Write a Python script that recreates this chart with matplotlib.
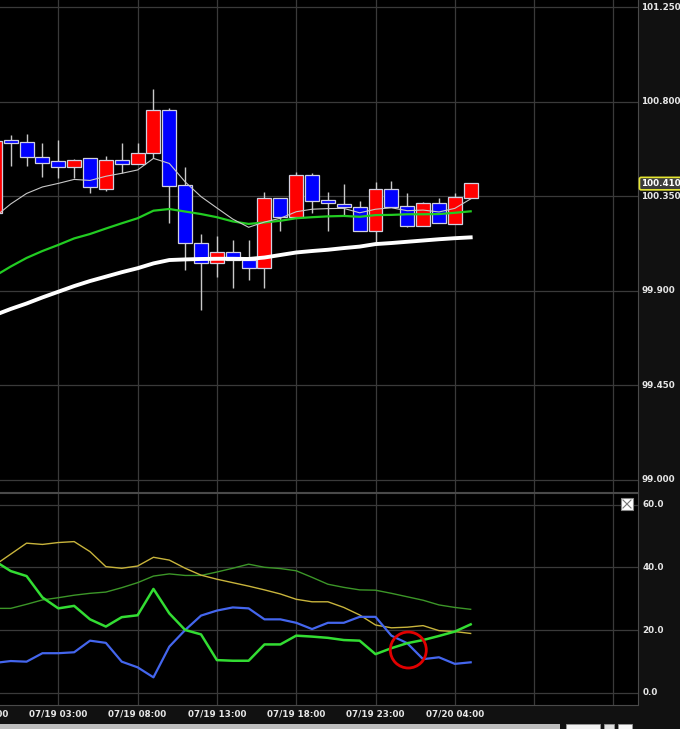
import numpy as np
import matplotlib
matplotlib.use("Agg")
import matplotlib.pyplot as plt
from matplotlib.patches import Rectangle, Ellipse
from matplotlib.transforms import blended_transform_factory

# hourly candles, first one is 07/18 23:00, last one is 07/20 05:00
opens = [100.270, 100.616, 100.605, 100.535, 100.516, 100.490, 100.529, 100.384, 100.521, 100.502,
         100.554, 100.760, 100.400, 100.126, 100.030, 100.083, 100.046, 100.007, 100.340, 100.250,
         100.450, 100.329, 100.313, 100.297, 100.184, 100.381, 100.300, 100.208, 100.314, 100.216, 100.340]
closes = [100.613, 100.603, 100.535, 100.507, 100.490, 100.522, 100.395, 100.521, 100.503, 100.554,
          100.760, 100.400, 100.126, 100.030, 100.083, 100.046, 100.007, 100.340, 100.250, 100.450,
          100.329, 100.316, 100.300, 100.184, 100.384, 100.300, 100.208, 100.314, 100.221, 100.343, 100.410]
highs = [100.641, 100.641, 100.645, 100.602, 100.618, 100.527, 100.531, 100.541, 100.605, 100.602,
         100.859, 100.769, 100.488, 100.170, 100.160, 100.141, 100.141, 100.369, 100.342, 100.467,
         100.462, 100.369, 100.408, 100.329, 100.418, 100.424, 100.364, 100.324, 100.340, 100.367, 100.410]
lows = [100.260, 100.494, 100.494, 100.443, 100.435, 100.438, 100.364, 100.375, 100.459, 100.502,
        100.530, 100.221, 99.999, 99.808, 99.967, 99.911, 99.951, 99.914, 100.186, 100.250,
        100.271, 100.186, 100.260, 100.184, 100.126, 100.300, 100.205, 100.208, 100.221, 100.216, 100.340]

# moving averages
ma_short = [100.251, 100.313, 100.363, 100.394, 100.411, 100.430, 100.425, 100.445, 100.459, 100.475,
            100.530, 100.506, 100.418, 100.348, 100.294, 100.241, 100.202, 100.227, 100.245, 100.276,
            100.288, 100.291, 100.292, 100.271, 100.288, 100.295, 100.281, 100.284, 100.275, 100.292, 100.337]
ma_mid = [99.970, 100.015, 100.056, 100.089, 100.118, 100.149, 100.170, 100.196, 100.221, 100.245,
          100.281, 100.289, 100.277, 100.265, 100.250, 100.230, 100.218, 100.225, 100.233, 100.245,
          100.250, 100.254, 100.256, 100.252, 100.260, 100.261, 100.264, 100.264, 100.265, 100.271, 100.278]
ma_long = [99.784, 99.813, 99.839, 99.868, 99.895, 99.922, 99.946, 99.967, 99.988, 100.007,
           100.030, 100.046, 100.049, 100.051, 100.052, 100.052, 100.051, 100.058, 100.070, 100.082,
           100.089, 100.095, 100.103, 100.110, 100.122, 100.127, 100.133, 100.139, 100.145, 100.150, 100.154]

# lower indicator
adx_yellow = [40.7, 44.2, 47.7, 47.3, 47.9, 48.2, 45.0, 40.2, 39.7, 40.4, 43.2, 42.3, 39.7, 37.5, 36.2, 35.1,
              34.0, 32.8, 31.5, 29.8, 29.0, 29.0, 27.2, 24.8, 21.6, 20.7, 20.9, 21.4, 19.8, 19.5, 18.9]
line_olive = [26.9, 26.9, 28.2, 29.6, 30.3, 31.1, 31.7, 32.1, 33.5, 35.1, 37.2, 37.9, 37.4, 37.4, 38.5, 39.7,
              41.0, 40.0, 39.6, 38.9, 36.8, 34.6, 33.6, 32.8, 32.7, 31.7, 30.6, 29.5, 28.0, 27.2, 26.6]
di_plus = [42.0, 38.8, 37.2, 30.4, 26.9, 27.7, 23.4, 21.1, 24.1, 24.7, 33.1, 25.3, 20.0, 18.6, 10.4, 10.2,
           10.2, 15.4, 15.4, 18.2, 17.9, 17.5, 16.8, 16.6, 12.3, 14.2, 15.8, 16.8, 18.1, 19.5, 21.8]
di_minus = [9.5, 10.1, 9.9, 12.6, 12.6, 12.9, 16.6, 15.9, 9.9, 8.1, 4.9, 14.7, 20.0, 24.6, 26.2, 27.2,
            26.9, 23.4, 23.4, 22.3, 20.3, 22.3, 22.3, 24.2, 24.2, 18.2, 15.8, 10.7, 11.3, 9.2, 9.7]

tick_pos = [-1, 4, 9, 14, 19, 24, 29]
tick_labels = ['07/18 22:00', '07/19 03:00', '07/19 08:00', '07/19 13:00',
               '07/19 18:00', '07/19 23:00', '07/20 04:00']

x = np.arange(len(opens))
grid_color = '#3a3a3a'
text_color = '#e6e6e6'
fs = 6.3

fig = plt.figure(figsize=(6.8, 7.29), dpi=100, facecolor='#111111')
# black strip between the two panels (behind the axes)
fig.add_artist(Rectangle((0, 1 - 493.5 / 729), 638 / 680, 2.5 / 729, transform=fig.transFigure,
                         fc='black', ec='none', zorder=-5))
ax = fig.add_axes([0, 1 - 491.5 / 729, 638 / 680, 491.5 / 729], facecolor='black')
ax2 = fig.add_axes([0, 1 - 704.5 / 729, 638 / 680, 211.5 / 729], facecolor='black')

xmin, xmax = 0.325, 40.55
for a in (ax, ax2):
    a.set_xlim(xmin, xmax)
    a.set_xticks(np.arange(4, 41, 5))
    a.tick_params(length=0, labelbottom=False, labelleft=False)
    a.grid(True, color=grid_color, lw=0.9)
    a.set_axisbelow(True)
    for s in ('left', 'top'):
        a.spines[s].set_visible(False)
    for s in ('right', 'bottom'):
        a.spines[s].set_color('#4a4a4a')
ax2.spines['top'].set_visible(True)
ax2.spines['top'].set_color('#4a4a4a')

# candles
ax.set_ylim(98.9438, 101.2843)
ax.set_yticks([99.0, 99.45, 99.9, 100.35, 100.8, 101.25])
ax.vlines(x, lows, highs, color='#c8c8c8', lw=1, zorder=2)
o = np.array(opens)
c = np.array(closes)
colors = np.where(c >= o, '#ff0000', '#0000ff')
ax.bar(x, np.abs(c - o) + 0.002, bottom=np.minimum(o, c), width=0.88, color=colors,
       edgecolor='#d0d0e0', linewidth=0.9, zorder=3)
ax.plot(x, ma_long, color='white', lw=2.8, zorder=4)
ax.plot(x, ma_mid, color='#22cc22', lw=1.6, zorder=4)
ax.plot(x, ma_short, color='#c8c8c8', lw=0.8, zorder=4)

trans = blended_transform_factory(ax.transAxes, ax.transData)
for v in [99.0, 99.45, 99.9, 100.35, 100.8, 101.25]:
    ax.text(1.005, v, f'{v:.3f}', transform=trans, color=text_color, fontsize=fs,
            fontweight='bold', va='center', ha='left')
ax.text(1.005, 100.41, '100.410', transform=trans, color='white', fontsize=fs, fontweight='bold',
        va='center', ha='left', zorder=10,
        bbox=dict(boxstyle='round,pad=0.2', fc='#3c3c3c', ec='#e6e632', lw=1.2))

# lower panel
ax2.set_ylim(-3.76, 63.7)
ax2.set_yticks([0, 20, 40, 60])
ax2.plot(x, line_olive, color='#3c9628', lw=1.0)
ax2.plot(x, adx_yellow, color='#c8b43c', lw=1.0)
ax2.plot(x, di_minus, color='#4466ee', lw=1.6)
ax2.plot(x, di_plus, color='#33dd33', lw=1.8)
trans2 = blended_transform_factory(ax2.transAxes, ax2.transData)
for v in [0, 20, 40, 60]:
    ax2.text(1.007, v, f'{v:.1f}', transform=trans2, color=text_color, fontsize=fs,
             fontweight='bold', va='center', ha='left')

trans3 = blended_transform_factory(ax2.transData, ax2.transAxes)
for p, lab in zip(tick_pos, tick_labels):
    ax2.text(p, -0.045, lab, transform=trans3, color=text_color, fontsize=fs,
             fontweight='bold', va='center', ha='center', clip_on=False)

# red circle on the crossing
fig.add_artist(Ellipse((408.3 / 680, 1 - 650 / 729), 36 / 680, 36 / 729, transform=fig.transFigure,
                       fill=False, ec='#e00000', lw=2))

# close button
fig.add_artist(Rectangle((621 / 680, 1 - 510 / 729), 12 / 680, 12 / 729, transform=fig.transFigure,
                         fc='white', ec='#888888', lw=0.8))
fig.add_artist(plt.Line2D([623 / 680, 631 / 680], [1 - 500 / 729, 1 - 508 / 729],
                          transform=fig.transFigure, color='#777777', lw=0.8))
fig.add_artist(plt.Line2D([623 / 680, 631 / 680], [1 - 508 / 729, 1 - 500 / 729],
                          transform=fig.transFigure, color='#777777', lw=0.8))

# scrollbar strip
fig.add_artist(Rectangle((0, 0), 560 / 680, 5 / 729, transform=fig.transFigure, fc='#bdbdbd', ec='none'))
fig.add_artist(Rectangle((566 / 680, 0), 34 / 680, 5 / 729, transform=fig.transFigure,
                         fc='#f2f2f2', ec='#999999', lw=0.6))
fig.add_artist(Rectangle((604 / 680, 0), 10 / 680, 5 / 729, transform=fig.transFigure,
                         fc='#e0e0e0', ec='#999999', lw=0.6))
fig.add_artist(Rectangle((618 / 680, 0), 14 / 680, 5 / 729, transform=fig.transFigure,
                         fc='#f8f8f8', ec='#999999', lw=0.6))

fig.savefig('out.png', dpi=100, facecolor=fig.get_facecolor())
